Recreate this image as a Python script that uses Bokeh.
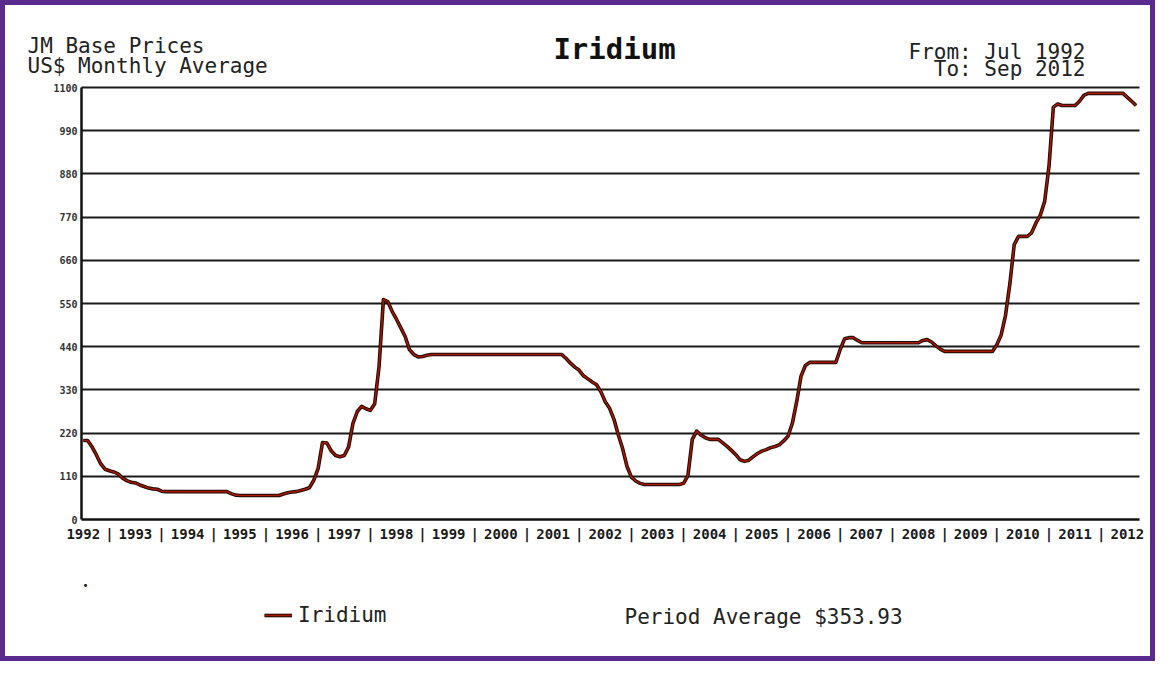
from bokeh.plotting import figure
from bokeh.models import Label, Legend, LegendItem, FixedTicker, Range1d
from bokeh.embed import file_html
from bokeh.resources import INLINE

# ---------------- data ----------------
chart_title = "Iridium"
header_lines = ["JM Base Prices", "US$ Monthly Average"]
period_lines = ["From: Jul 1992", "To: Sep 2012"]
series_name = "Iridium"
period_average_text = "Period Average $353.93"

years = [1992, 1993, 1994, 1995, 1996, 1997, 1998, 1999, 2000, 2001, 2002,
         2003, 2004, 2005, 2006, 2007, 2008, 2009, 2010, 2011, 2012]
y_ticks = [0, 110, 220, 330, 440, 550, 660, 770, 880, 990, 1100]

# monthly average price, Jul 1992 .. Sep 2012 (US$)
prices_1992 = [201, 201, 185, 165, 142, 128]
prices_1993 = [124, 121, 116, 106, 99, 95, 93, 88, 84, 80, 78, 77]
prices_1994 = [72, 71, 71, 71, 71, 71, 71, 71, 71, 71, 71, 71]
prices_1995 = [71, 71, 71, 71, 66, 62, 61, 61, 61, 61, 61, 61]
prices_1996 = [61, 61, 61, 61, 65, 68, 70, 71, 74, 77, 81, 100]
prices_1997 = [130, 196, 195, 175, 163, 160, 163, 185, 245, 275, 288, 282]
prices_1998 = [278, 295, 390, 560, 555, 530, 510, 488, 466, 432, 420, 414]
prices_1999 = [415, 418, 420, 420, 420, 420, 420, 420, 420, 420, 420, 420]
prices_2000 = [420, 420, 420, 420, 420, 420, 420, 420, 420, 420, 420, 420]
prices_2001 = [420, 420, 420, 420, 420, 420, 420, 420, 420, 410, 398, 388]
prices_2002 = [380, 366, 358, 350, 343, 325, 300, 283, 255, 215, 180, 135]
prices_2003 = [108, 98, 92, 89, 89, 89, 89, 89, 89, 89, 89, 89]
prices_2004 = [92, 112, 204, 225, 215, 208, 204, 204, 204, 195, 186, 176]
prices_2005 = [165, 152, 148, 151, 160, 168, 174, 178, 183, 186, 190, 200]
prices_2006 = [212, 245, 300, 365, 392, 400, 400, 400, 400, 400, 400, 400]
prices_2007 = [433, 460, 463, 463, 456, 450, 450, 450, 450, 450, 450, 450]
prices_2008 = [450, 450, 450, 450, 450, 450, 450, 456, 458, 452, 442, 434]
prices_2009 = [428, 428, 428, 428, 428, 428, 428, 428, 428, 428, 428, 428]
prices_2010 = [445, 470, 520, 600, 700, 721, 721, 721, 730, 755, 775, 810]
prices_2011 = [900, 1050, 1058, 1054, 1054, 1054, 1054, 1065, 1080, 1085, 1085, 1085]
prices_2012 = [1085, 1085, 1085, 1085, 1085, 1085, 1075, 1065, 1054]

prices = (prices_1992 + prices_1993 + prices_1994 + prices_1995 + prices_1996 +
          prices_1997 + prices_1998 + prices_1999 + prices_2000 + prices_2001 +
          prices_2002 + prices_2003 + prices_2004 + prices_2005 + prices_2006 +
          prices_2007 + prices_2008 + prices_2009 + prices_2010 + prices_2011 +
          prices_2012)
months = list(range(len(prices)))  # 0 = Jul 1992

# ---------------- layout (page pixel coordinates) ----------------
FONT = "DejaVu Sans Mono"
PAGE_MARGIN, BORDER = 8, 5
FIG_W, FIG_H = 1155, 661
CANVAS_L = PAGE_MARGIN + BORDER
CANVAS_T = PAGE_MARGIN + BORDER
CANVAS_W = FIG_W - 2 * BORDER
CANVAS_H = FIG_H - 2 * BORDER
PLOT_L, PLOT_R, PLOT_T, PLOT_B = 89, 1147, 95, 527   # chart area
X0, X1 = -0.4, 242.8
Y0, Y1 = 0, 1100

def dx(px):
    return X0 + (px - PLOT_L) * (X1 - X0) / (PLOT_R - PLOT_L)

def dy(py):
    return Y0 + (PLOT_B - py) * (Y1 - Y0) / (PLOT_B - PLOT_T)

p = figure(frame_width=CANVAS_W, frame_height=CANVAS_H,
           x_range=Range1d(dx(CANVAS_L), dx(CANVAS_L + CANVAS_W)),
           y_range=Range1d(dy(CANVAS_T + CANVAS_H), dy(CANVAS_T)),
           output_backend="svg", toolbar_location=None,
           min_border_left=0, min_border_right=0,
           min_border_top=0, min_border_bottom=0)
p.title.visible = False
p.styles = {"border": f"{BORDER}px solid #5b2a8e"}
p.background_fill_color = "white"
p.border_fill_color = "white"
p.outline_line_color = None

# axes, fixed inside the canvas
year_ticks = [12 * k for k in range(len(years))]
sep_ticks = [12 * k - 6 for k in range(1, len(years))]
overrides = {t: str(y) for t, y in zip(year_ticks, years)}
overrides.update({t: "|" for t in sep_ticks})

xa = p.xaxis[0]
xa.fixed_location = Y0
xa.bounds = (X0, X1)
xa.ticker = FixedTicker(ticks=sorted(year_ticks + sep_ticks))
xa.major_label_overrides = overrides
xa.major_tick_out = 0
xa.major_tick_in = 0
xa.minor_tick_out = 0
xa.minor_tick_in = 0
xa.axis_line_width = 2.5
xa.axis_line_color = "#111111"
xa.major_label_standoff = 6
xa.major_label_text_font = FONT
xa.major_label_text_font_style = "bold"
xa.major_label_text_font_size = "14px"
xa.major_label_text_color = "#1a1a1a"

ya = p.yaxis[0]
ya.fixed_location = X0
ya.bounds = (Y0, Y1)
ya.ticker = FixedTicker(ticks=y_ticks)
ya.major_tick_out = 0
ya.major_tick_in = 0
ya.minor_tick_out = 0
ya.minor_tick_in = 0
ya.axis_line_width = 2.5
ya.axis_line_color = "#111111"
ya.major_label_standoff = 4
ya.major_label_text_font = FONT
ya.major_label_text_font_style = "bold"
ya.major_label_text_font_size = "10px"
ya.major_label_text_color = "#333333"

p.xgrid.grid_line_color = None
yg = p.ygrid[0]
if "cross_bounds" in yg.properties():
    yg.ticker = FixedTicker(ticks=y_ticks[1:])
    yg.bounds = (Y0, Y1)
    yg.cross_bounds = (X0, X1)
    yg.grid_line_color = "#1a1a1a"
    yg.grid_line_width = 2
else:
    yg.grid_line_color = None
    grid_y = y_ticks[1:]
    p.segment(x0=[X0] * len(grid_y), y0=grid_y, x1=[X1] * len(grid_y), y1=grid_y,
              line_color="#1a1a1a", line_width=2)

# data line: dark edge + red core
edge = p.line(months, prices, line_color="#1a0800", line_width=3.6, line_join="round")
core = p.line(months, prices, line_color="#a81800", line_width=1.6, line_join="round")

# legend (location measured from the canvas bottom-left)
leg_x = 272 - CANVAS_L
leg_y = (CANVAS_T + CANVAS_H) - (624 + 11)
legend = Legend(items=[LegendItem(label=series_name, renderers=[edge, core])],
                location=(leg_x, leg_y), orientation="horizontal",
                border_line_color=None, background_fill_alpha=0,
                padding=0, margin=0, spacing=0,
                glyph_width=28, glyph_height=22, label_height=22,
                label_standoff=6, label_text_font=FONT,
                label_text_font_size="21px", label_text_color="#222222")
p.add_layout(legend, "center")

# texts
def add_text(px, py, text, align="left", size="21px", style="normal", color="#222222"):
    p.add_layout(Label(x=dx(px), y=dy(py), text=text, text_align=align,
                       text_baseline="middle", text_font=FONT,
                       text_font_size=size, text_font_style=style,
                       text_color=color))

add_text(35, 53, header_lines[0])
add_text(35, 73, header_lines[1])
add_text(622, 56, chart_title, align="center", size="29px", style="bold", color="#111111")
add_text(1093, 59, period_lines[0], align="right")
add_text(1093, 76, period_lines[1], align="right")
add_text(632, 624, period_average_text)
add_text(93, 593, "\u2022", align="center", size="10px", color="#111111")

open("out.html", "w").write(file_html(p, INLINE))
